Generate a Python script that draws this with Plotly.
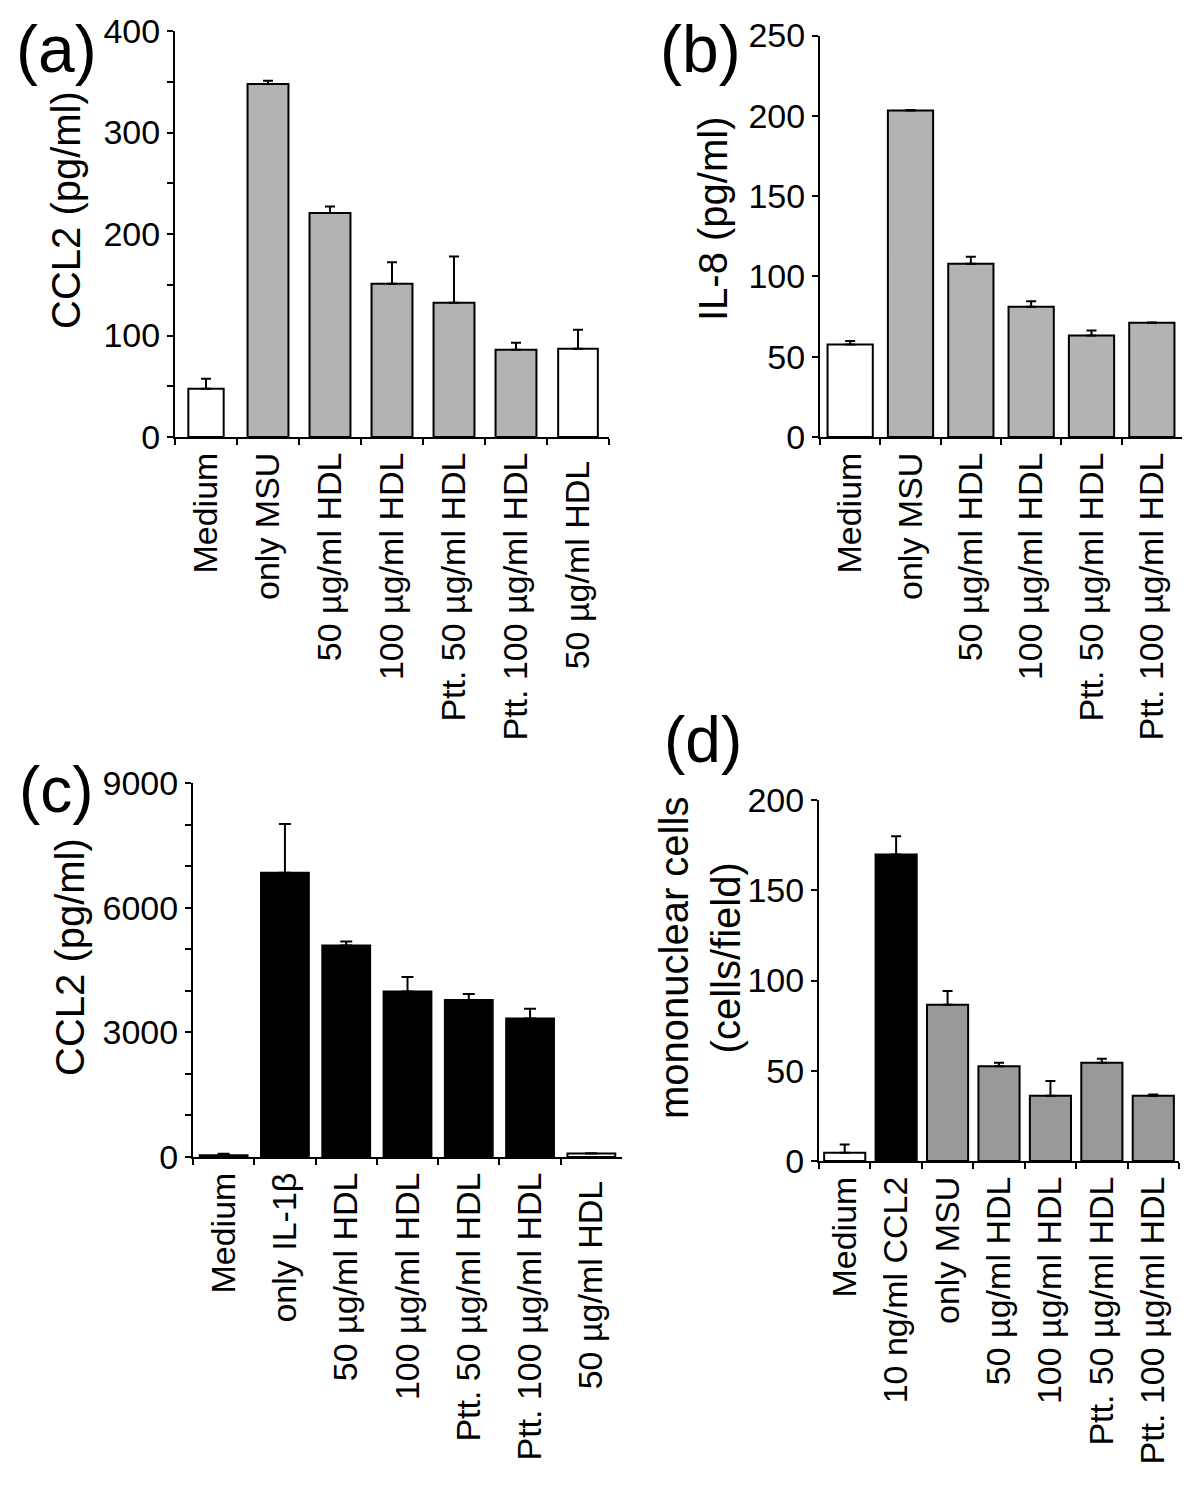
import plotly.graph_objects as go

# page is 1200x1497; the html body adds an 8px margin, so the figure is
# sized to fit inside it and all page-pixel positions are shifted by OFF.
OFF = 8
W, H = 1200 - 2 * OFF, 1497 - 2 * OFF
FONT = "Liberation Sans, Arial, sans-serif"

# ---------------- data ----------------
cats_a = ["Medium", "only MSU", "50 µg/ml HDL", "100 µg/ml HDL",
          "Ptt. 50 µg/ml HDL", "Ptt. 100 µg/ml HDL", "50 µg/ml HDL "]
vals_a = [47.6, 347.8, 220.8, 150.9, 132.2, 86.0, 86.9]
errs_a = [9.8, 3.3, 6.2, 21.3, 45.6, 6.8, 18.7]

cats_b = ["Medium", "only MSU", "50 µg/ml HDL", "100 µg/ml HDL",
          "Ptt. 50 µg/ml HDL", "Ptt. 100 µg/ml HDL"]
vals_b = [57.6, 203.3, 107.9, 81.1, 63.2, 71.1]
errs_b = [2.1, 0.3, 4.4, 3.5, 3.1, 0.2]

cats_c = ["Medium", "only IL-1β", "50 µg/ml HDL", "100 µg/ml HDL",
          "Ptt. 50 µg/ml HDL", "Ptt. 100 µg/ml HDL", "50 µg/ml HDL "]
vals_c = [45, 6841, 5087, 3981, 3781, 3333, 85]
errs_c = [35, 1170, 96, 353, 144, 232, 5]

cats_d = ["Medium", "10 ng/ml CCL2", "only MSU", "50 µg/ml HDL", "100 µg/ml HDL",
          "Ptt. 50 µg/ml HDL", "Ptt. 100 µg/ml HDL"]
vals_d = [4.6, 169.8, 86.6, 52.5, 36.2, 54.5, 36.2]
errs_d = [4.6, 10.1, 7.6, 2.0, 8.1, 2.2, 0.7]

# ---------------- styles ----------------
GA = "#b3b3b3"
GD = "#999999"
colors_a = ["white", GA, GA, GA, GA, GA, "white"]
colors_b = ["white", GA, GA, GA, GA, GA]
colors_c = ["black", "black", "black", "black", "black", "black", "white"]
colors_d = ["white", "black", GD, GD, GD, GD, GD]
widths_a = [0.57, 0.66, 0.66, 0.66, 0.66, 0.66, 0.64]


def fx(px):
    return (px - OFF) / W


def fy(py):
    return 1 - (py - OFF) / H


def dom_x(x0, x1):
    return [fx(x0), fx(x1)]


def dom_y(ytop, ybot):
    return [fy(ybot), fy(ytop)]


panels = [
    (cats_a, vals_a, errs_a, colors_a, widths_a, (175, 609), (31, 437), [0, 400], 100, 50, 5),
    (cats_b, vals_b, errs_b, colors_b, 0.75, (820, 1182), (35.5, 437), [0, 250], 50, None, 5),
    (cats_c, vals_c, errs_c, colors_c, 0.78, (193, 622), (783, 1157), [0, 9000], 3000, 1000, 6),
    (cats_d, vals_d, errs_d, colors_d, 0.80, (819, 1179), (800, 1161), [0, 200], 50, None, 5),
]

fig = go.Figure()
layout = dict(
    template="none",
    width=W, height=H, margin=dict(l=0, r=0, t=0, b=0, pad=0),
    paper_bgcolor="white", plot_bgcolor="white", showlegend=False,
    font=dict(family=FONT, color="black"),
)

for i, (cats, vals, errs, cols, wd, xb, yb, yr, dt, mn, capw) in enumerate(panels, start=1):
    sx = "" if i == 1 else str(i)
    fig.add_trace(go.Bar(
        x=cats, y=vals, width=wd,
        marker=dict(color=cols, line=dict(color="black", width=2)),
        error_y=dict(type="data", symmetric=False, array=errs,
                     arrayminus=[0] * len(errs), color="black",
                     thickness=2, width=capw),
        xaxis="x" + sx, yaxis="y" + sx,
    ))
    layout["xaxis" + sx] = dict(
        domain=dom_x(*xb), anchor="y" + sx, type="category", automargin=False,
        range=[-0.5, len(cats) - 0.5],
        showline=True, linecolor="black", linewidth=2,
        ticks="outside", tickson="boundaries", ticklen=6, tickwidth=2, tickcolor="black",
        tickangle=-90, tickfont=dict(size=34, family=FONT, color="black"),
        showgrid=False, zeroline=False, fixedrange=True,
    )
    yax = dict(
        domain=dom_y(*yb), anchor="x" + sx, range=yr, automargin=False,
        showline=True, linecolor="black", linewidth=2,
        ticks="outside", ticklen=6, tickwidth=2, tickcolor="black",
        dtick=dt, tick0=0, tickfont=dict(size=34, family=FONT, color="black"),
        showgrid=False, zeroline=False, fixedrange=True,
    )
    if mn:
        yax["minor"] = dict(dtick=mn, ticks="outside", ticklen=6, tickwidth=2,
                            tickcolor="black", showgrid=False)
    layout["yaxis" + sx] = yax

ann = []


def add_text(text, px, py, size, angle=0):
    ann.append(dict(text=text, x=fx(px), y=fy(py), xref="paper", yref="paper",
                    xanchor="center", yanchor="middle", showarrow=False,
                    textangle=angle, font=dict(size=size, family=FONT, color="black")))


add_text("(a)", 56, 49, 66)
add_text("(b)", 700, 49, 66)
add_text("(c)", 56, 790, 64)
add_text("(d)", 703, 740, 64)
add_text("CCL2 (pg/ml)", 66, 210, 40, -90)
add_text("IL-8 (pg/ml)", 713, 219, 40, -90)
add_text("CCL2 (pg/ml)", 70, 957, 40, -90)
add_text("mononuclear cells<br>(cells/field)", 700, 958, 40, -90)

layout["annotations"] = ann
fig.update_layout(**layout)
fig.write_html("out.html")
